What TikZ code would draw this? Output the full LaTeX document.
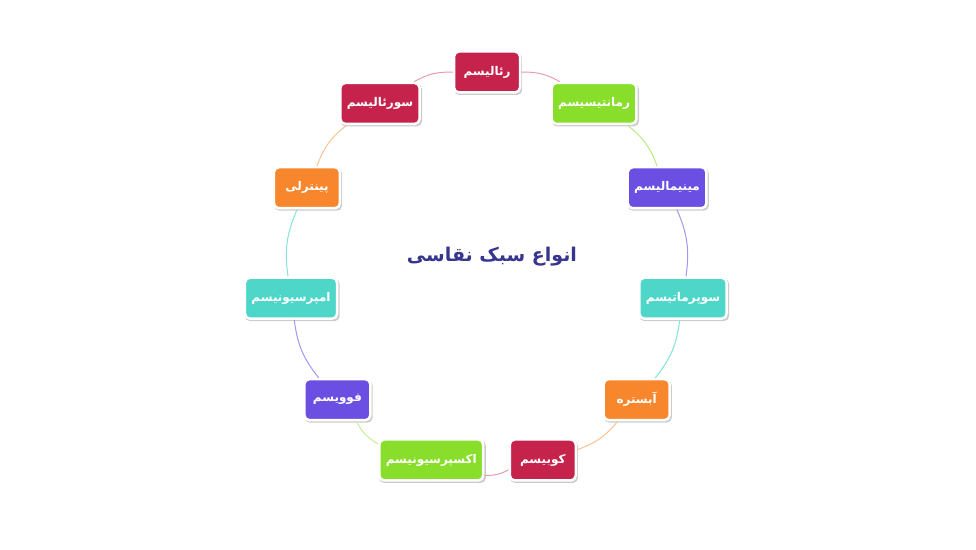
\documentclass[tikz,border=0pt]{standalone}
\usepackage{fontspec}
\newfontfamily\arabicfont[Script=Arabic]{DejaVu Sans}
\TeXXeTstate=1
\usetikzlibrary{shadows}
\definecolor{crimson}{HTML}{C5234C}
\definecolor{lime}{HTML}{88DE2B}
\definecolor{violet}{HTML}{6B4FE3}
\definecolor{aqua}{HTML}{4ED6C9}
\definecolor{tangerine}{HTML}{F8862C}
\definecolor{ink}{HTML}{38358E}
\newcommand\fa[1]{\arabicfont\beginR #1\endR}
\tikzset{
    stylebox/.style={draw=white, line width=2.5pt, rounded corners=5pt, text=white, font=\bfseries\fontsize{12}{14}\selectfont,
        minimum width=66pt, minimum height=41pt, inner xsep=6.5pt,
        drop shadow={opacity=0.4, shadow xshift=1.2pt, shadow yshift=-1.8pt, shadow scale=1.03}},
    ring/.style={line width=1pt}
    }

\begin{document}
\begin{tikzpicture}[x=1pt,y=1pt]
	\useasboundingbox (0,0) rectangle (976,549);
	\def\radius{198}
	\coordinate (O) at (487,279);

	\node[font=\bfseries\fontsize{19}{23}\selectfont, text=ink] (T) at (492,292) {\fa{انواع سبک نقاسی}};

	\node[stylebox, fill=crimson] (rea) at ([shift={(90:\radius)}]O) {\fa{رئالیسم}};
	\node[stylebox, fill=lime] (rom) at ([shift={(57.27:\radius)}]O) {\fa{رمانتیسیسم}};
	\node[stylebox, fill=violet] (min) at ([shift={(24.55:\radius)}]O) {\fa{مینیمالیسم}};
	\node[stylebox, fill=aqua] (sup) at ([shift={(-8.18:\radius)}]O) {\fa{سوپرماتیسم}};
	\node[stylebox, fill=tangerine] (abs) at ([shift={(-40.91:\radius)}]O) {\fa{آبستره}};
	\node[stylebox, fill=crimson] (cub) at ([shift={(-73.64:\radius)}]O) {\fa{کوبیسم}};
	\node[stylebox, fill=lime] (exp) at ([shift={(-106.36:\radius)}]O) {\fa{اکسپرسیونیسم}};
	\node[stylebox, fill=violet] (fau) at ([shift={(-139.09:\radius)}]O) {\fa{فوویسم}};
	\node[stylebox, fill=aqua] (imp) at ([shift={(-171.82:\radius)}]O) {\fa{امپرسیونیسم}};
	\node[stylebox, fill=tangerine] (pai) at ([shift={(155.45:\radius)}]O) {\fa{پینترلی}};
	\node[stylebox, fill=crimson] (sur) at ([shift={(122.73:\radius)}]O) {\fa{سورئالیسم}};

	\draw[ring, crimson!45] (rea) to[bend left=16] (rom);
	\draw[ring, lime!60] (rom) to[bend left=16] (min);
	\draw[ring, violet!60] (min) to[bend left=16] (sup);
	\draw[ring, aqua!70] (sup) to[bend left=16] (abs);
	\draw[ring, tangerine!50] (abs) to[bend left=16] (cub);
	\draw[ring, crimson!45] (cub) to[bend left=16] (exp);
	\draw[ring, lime!50] (exp) to[bend left=16] (fau);
	\draw[ring, violet!60] (fau) to[bend left=16] (imp);
	\draw[ring, aqua!70] (imp) to[bend left=16] (pai);
	\draw[ring, tangerine!50] (pai) to[bend left=16] (sur);
	\draw[ring, crimson!45] (sur) to[bend left=16] (rea);
\end{tikzpicture}
\end{document}
